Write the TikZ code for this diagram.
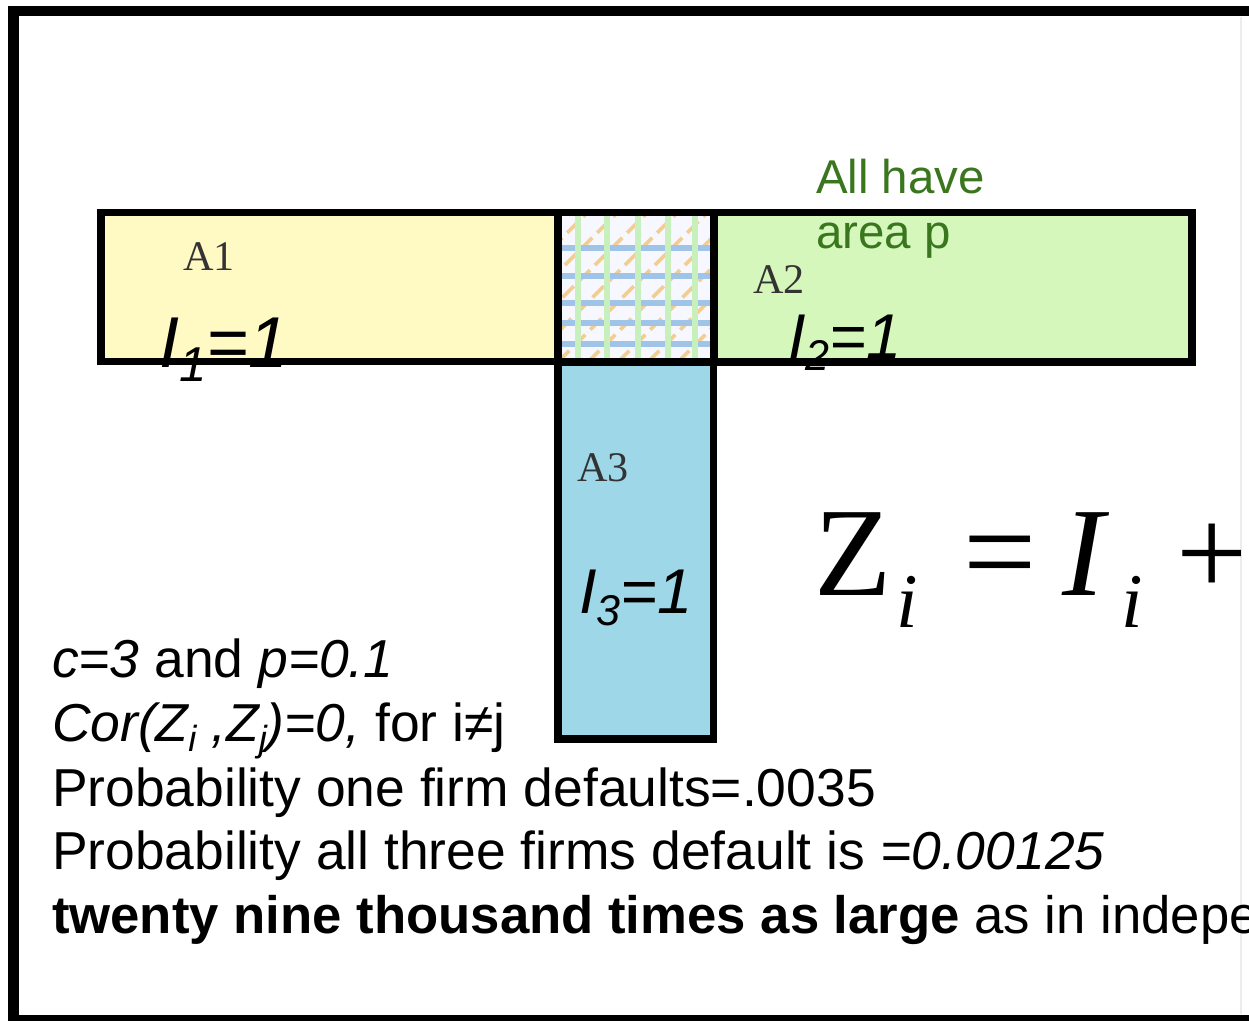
\documentclass[tikz,border=0pt]{standalone}
\usepackage{fontspec}
\setmainfont{Liberation Sans}
\newfontfamily\timesf{Liberation Serif}
\definecolor{yfill}{RGB}{255,249,196}
\definecolor{gfill}{RGB}{213,247,187}
\definecolor{bfill}{RGB}{158,216,232}
\definecolor{hblue}{RGB}{160,196,232}
\definecolor{hgreen}{RGB}{200,240,188}
\definecolor{horange}{RGB}{245,205,140}
\definecolor{ltext}{RGB}{51,51,51}
\definecolor{gtext}{RGB}{58,118,30}
\newcommand\lo[1]{\raisebox{-0.2em}{\scalebox{0.68}{#1}}}
\tikzset{
  box/.style={draw=black, line width=4pt},
  txt/.style={anchor=base west, inner sep=0pt, outer sep=0pt},
  alabel/.style={txt, text=ltext, font=\timesf\fontsize{24}{24}\selectfont},
  ilabel/.style={txt, font=\itshape\fontsize{36}{36}\selectfont},
  body/.style={txt, font=\fontsize{30.4}{30.4}\selectfont},
}
\begin{document}
\begin{tikzpicture}[x=0.02cm, y=-0.02cm]
\useasboundingbox (0,0) rectangle (1249,1021);
\clip (0,0) rectangle (1249,1021);
% frame
\draw[line width=6.2pt] (13.5,11) rectangle (1300,1020.5);
\draw[gray!15, line width=1pt] (1241,17) -- (1241,1014);
% areas
\fill[yfill] (101,212.5) rectangle (558,361.5);
\fill[gfill] (714,212.5) rectangle (1192,362);
\fill[bfill] (558,362) rectangle (713.5,739);
\fill[blue!3] (558,212.5) rectangle (714,362);
% crosshatch
\begin{scope}
\clip (558,212.5) rectangle (714,362);
\foreach \k in {-150,-120,...,330}
  \draw[horange, line width=2.2pt, dash pattern=on 9pt off 4pt] (558+\k,362) -- (708+\k,212);
\foreach \yy in {248,276,303,323,344}
  \draw[hblue, line width=3.6pt] (558,\yy) -- (714,\yy);
\foreach \xx in {578,607,638,668,695}
  \draw[hgreen, line width=3.6pt] (\xx,212) -- (\xx,362);
\end{scope}
% borders
\draw[box] (101,212.5) rectangle (558,361.5);
\draw[box] (558,212.5) rectangle (714,362);
\draw[box] (714,212.5) rectangle (1192,362);
\draw[box] (558,362) rectangle (713.5,739);
% area labels
\node[alabel] (a1) at (183,270) {A1};
\node[alabel] (a2) at (753,293) {A2};
\node[alabel] (a3) at (577,481) {A3};
\node[ilabel, font=\itshape\fontsize{41}{41}\selectfont] (i1) at (159,367) {I\lo{1}=1};
\node[ilabel] (i2) at (788,358) {I\lo{2}=1};
\node[ilabel] (i3) at (579,613) {I\lo{3}=1};
% green note
\node[txt, text=gtext, font=\fontsize{27}{27}\selectfont] (note1) at (816,193) {All have};
\node[txt, text=gtext, font=\fontsize{27}{27}\selectfont] (note2) at (816,248) {area p};
% equation, cut at the panel edge
\begin{scope}
\clip (0,0) rectangle (1240,1021);
\node[txt, font=\timesf\fontsize{72}{72}\selectfont] (zi) at (814,595) {Z};
\node[txt, font=\timesf\itshape\fontsize{44}{44}\selectfont] (zsub) at (896,627) {i};
\node[txt, font=\timesf\fontsize{74}{74}\selectfont] (eq) at (963,595) {=};
\node[txt, font=\timesf\itshape\fontsize{72}{72}\selectfont] (ii) at (1062,595) {I};
\node[txt, font=\timesf\itshape\fontsize{44}{44}\selectfont] (isub) at (1121,627) {i};
\node[txt, font=\timesf\fontsize{72}{72}\selectfont] (plus) at (1176,595) {+};
\end{scope}
% bottom text
\node[body] (l1) at (52,677) {\textit{c=3} and \textit{p=0.1}};
\node[body] (l2) at (52,741) {\textit{Cor(Z\lo{i} ,Z\lo{j})=0,} for i≠j};
\node[body] (l3) at (52,806) {Probability one firm defaults=.0035};
\node[body] (l4) at (52,869) {Probability all three firms default is \textit{=0.00125}};
\node[body, font=\fontsize{30}{30}\selectfont] (l5) at (52,933) {\textbf{twenty nine thousand times as large} as in indepe};
\end{tikzpicture}
\end{document}
